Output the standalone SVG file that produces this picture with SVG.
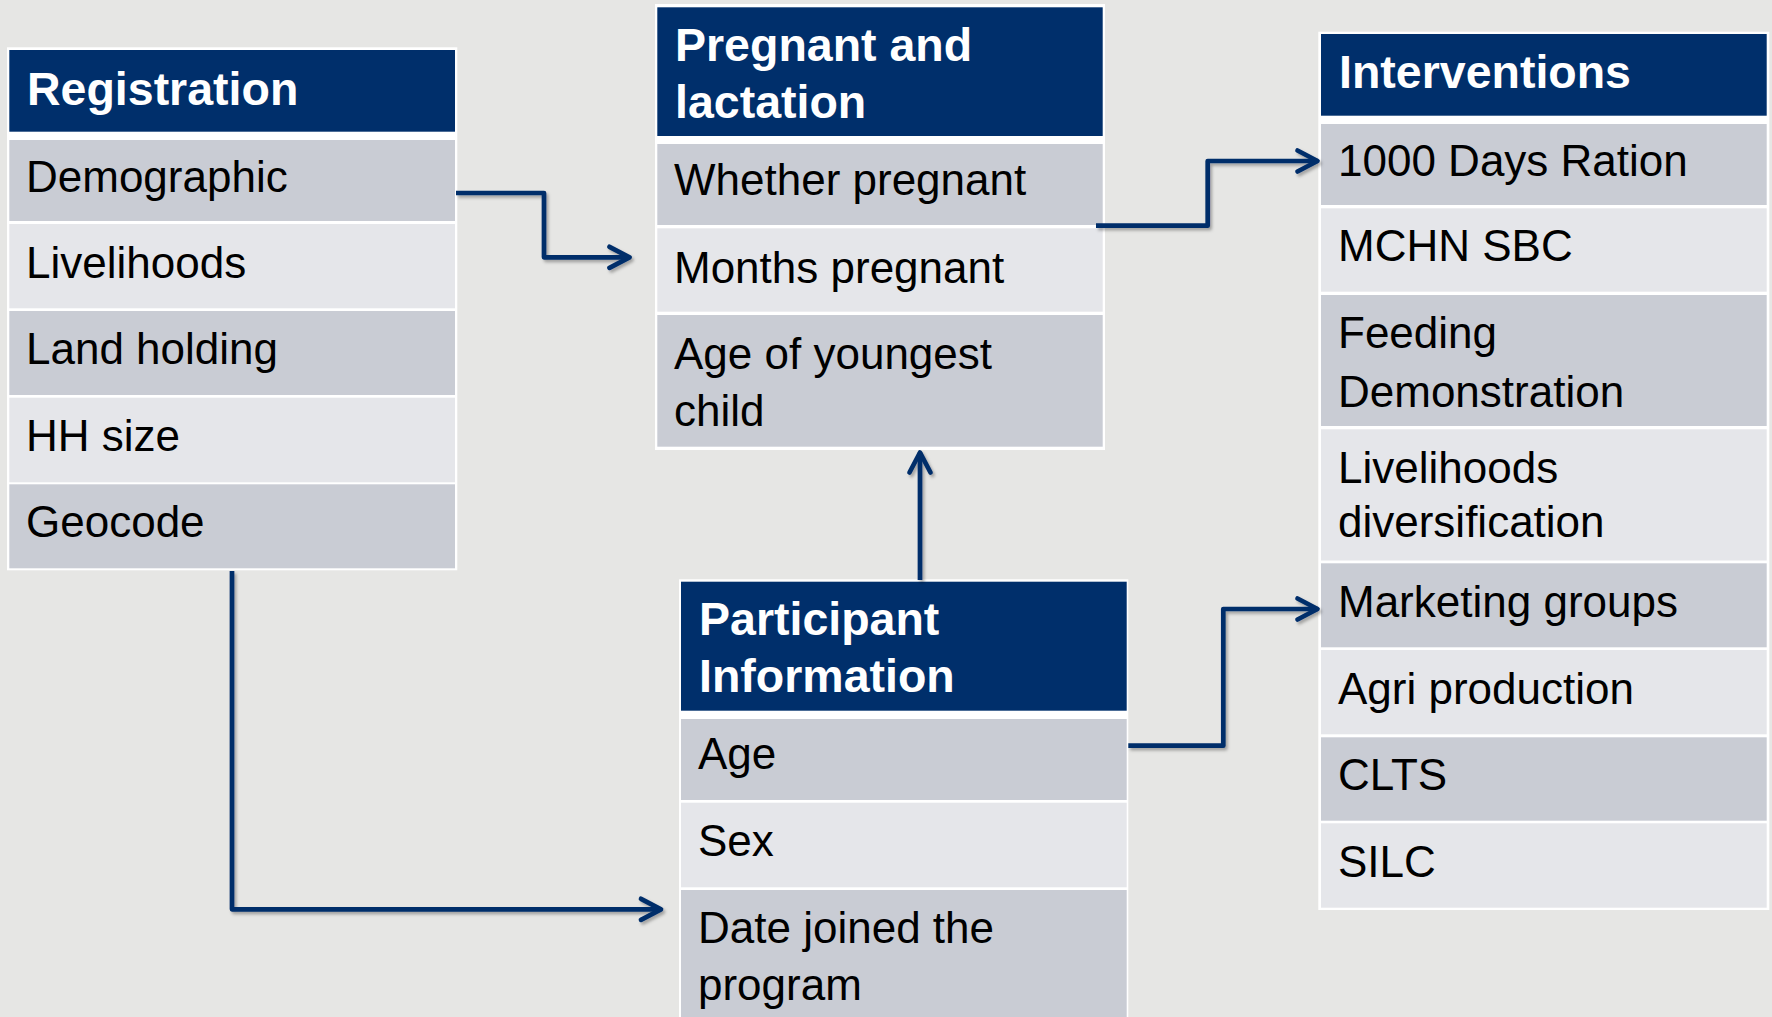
<svg xmlns="http://www.w3.org/2000/svg" width="1772" height="1017" viewBox="0 0 1772 1017">
<style>
.bg{fill:#E6E6E4}
.frame{fill:#FFFFFF}
.hd{fill:#002F6B}
.dk{fill:#C9CCD4}
.lt{fill:#E5E6EA}
.ht{font-family:"Liberation Sans",Arial,sans-serif;font-weight:bold;font-size:46.5px;fill:#FFFFFF}
.bt{font-family:"Liberation Sans",Arial,sans-serif;font-size:44px;fill:#000000}
.conn{fill:none;stroke:#002F6B;stroke-width:4.7;stroke-linejoin:round;stroke-linecap:butt}
</style>
<defs>
<filter id="sh" x="-10%" y="-10%" width="120%" height="120%">
<feDropShadow dx="2" dy="2.5" stdDeviation="1.5" flood-color="#000000" flood-opacity="0.3"/>
</filter>
<marker id="arr" markerUnits="userSpaceOnUse" viewBox="-26 -15 30 30" refX="0" refY="0" markerWidth="30" markerHeight="30" orient="auto" overflow="visible">
<path d="M-20,-10.5 L0,0 L-20,10.5" fill="none" stroke="#002F6B" stroke-width="4.7" stroke-linecap="round" stroke-linejoin="round"/>
</marker>
</defs>
<rect class="bg" x="0" y="0" width="1772" height="1017"/>

<g id="registration">
<rect class="frame" x="7" y="47.3" width="450.3" height="523"/>
<rect class="hd" x="9.3" y="50" width="445.7" height="81.7"/>
<rect class="dk" x="9.3" y="140" width="445.7" height="81"/>
<rect class="lt" x="9.3" y="224" width="445.7" height="84.3"/>
<rect class="dk" x="9.3" y="311" width="445.7" height="84"/>
<rect class="lt" x="9.3" y="397.7" width="445.7" height="84.6"/>
<rect class="dk" x="9.3" y="484.3" width="445.7" height="84"/>
<text class="ht" x="27" y="105">Registration</text>
<text class="bt" x="26" y="192.3">Demographic</text>
<text class="bt" x="26" y="277.7">Livelihoods</text>
<text class="bt" x="26" y="364">Land holding</text>
<text class="bt" x="26" y="451">HH size</text>
<text class="bt" x="26" y="537.3">Geocode</text>
</g>

<g id="pregnant">
<rect class="frame" x="655" y="4" width="450" height="446"/>
<rect class="hd" x="657.3" y="7.3" width="445.4" height="128.7"/>
<rect class="dk" x="657.3" y="144" width="445.4" height="81"/>
<rect class="lt" x="657.3" y="228.3" width="445.4" height="83.4"/>
<rect class="dk" x="657.3" y="315" width="445.4" height="131.7"/>
<text class="ht" x="675" y="61">Pregnant and</text>
<text class="ht" x="675" y="118.3">lactation</text>
<text class="bt" x="674" y="195">Whether pregnant</text>
<text class="bt" x="674" y="282.7">Months pregnant</text>
<text class="bt" x="674" y="369.3">Age of youngest</text>
<text class="bt" x="674" y="426">child</text>
</g>

<g id="interventions">
<rect class="frame" x="1318.3" y="31.7" width="451" height="878.3"/>
<rect class="hd" x="1321" y="34" width="445.7" height="81.7"/>
<rect class="dk" x="1321" y="124" width="445.7" height="81"/>
<rect class="lt" x="1321" y="208.3" width="445.7" height="83.4"/>
<rect class="dk" x="1321" y="295" width="445.7" height="131"/>
<rect class="lt" x="1321" y="429.3" width="445.7" height="131.2"/>
<rect class="dk" x="1321" y="563.3" width="445.7" height="84"/>
<rect class="lt" x="1321" y="650" width="445.7" height="84.3"/>
<rect class="dk" x="1321" y="737.3" width="445.7" height="83.4"/>
<rect class="lt" x="1321" y="823.3" width="445.7" height="84.4"/>
<text class="ht" x="1339" y="88.3">Interventions</text>
<text class="bt" x="1338" y="175.7">1000 Days Ration</text>
<text class="bt" x="1338" y="260.7">MCHN SBC</text>
<text class="bt" x="1338" y="348.3">Feeding</text>
<text class="bt" x="1338" y="406.7">Demonstration</text>
<text class="bt" x="1338" y="483.3">Livelihoods</text>
<text class="bt" x="1338" y="536.7">diversification</text>
<text class="bt" x="1338" y="617.3">Marketing groups</text>
<text class="bt" x="1338" y="704">Agri production</text>
<text class="bt" x="1338" y="790">CLTS</text>
<text class="bt" x="1338" y="877.3">SILC</text>
</g>

<g id="participant">
<rect class="frame" x="679" y="579.3" width="449.3" height="450"/>
<rect class="hd" x="681" y="581.7" width="445.7" height="129"/>
<rect class="dk" x="681" y="719" width="445.7" height="81"/>
<rect class="lt" x="681" y="802.7" width="445.7" height="84.6"/>
<rect class="dk" x="681" y="890" width="445.7" height="131"/>
<text class="ht" x="699" y="635">Participant</text>
<text class="ht" x="699" y="692.3">Information</text>
<text class="bt" x="698" y="769.3">Age</text>
<text class="bt" x="698" y="856">Sex</text>
<text class="bt" x="698" y="942.7">Date joined the</text>
<text class="bt" x="698" y="1000">program</text>
</g>

<g id="connectors" filter="url(#sh)">
<path class="conn" d="M456,193 H544 V257.3 H629.5" marker-end="url(#arr)"/>
<path class="conn" d="M232,571 V909.3 H661" marker-end="url(#arr)"/>
<path class="conn" d="M920,580 V452.5" marker-end="url(#arr)"/>
<path class="conn" d="M1096,225.7 H1207.7 V161 H1317.5" marker-end="url(#arr)"/>
<path class="conn" d="M1128.3,745.7 H1223.3 V609 H1317.5" marker-end="url(#arr)"/>
</g>
</svg>
